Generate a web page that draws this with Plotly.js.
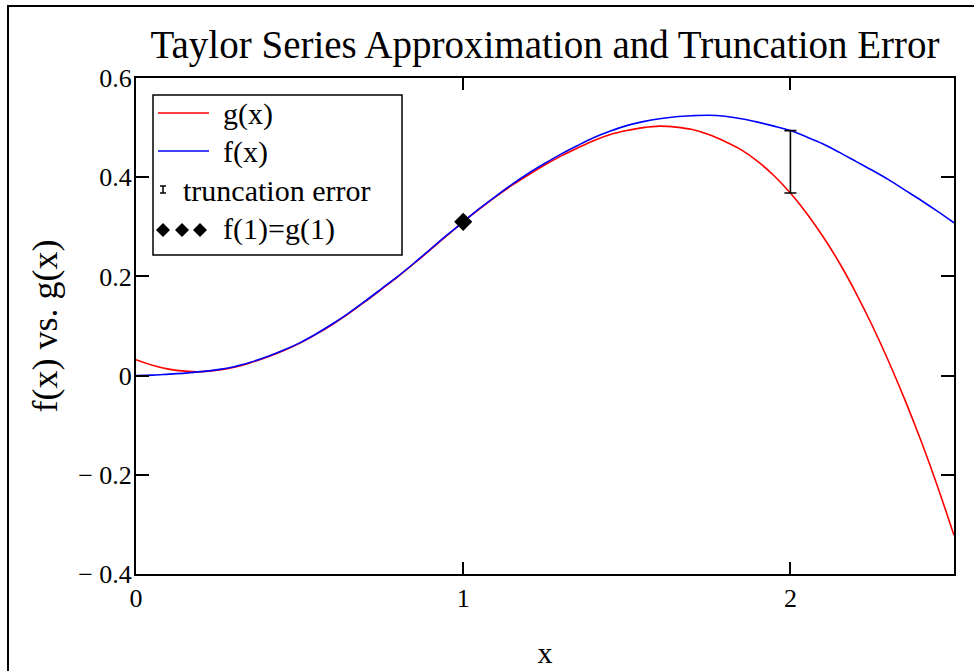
<!DOCTYPE html>
<html>
<head>
<meta charset="utf-8">
<script src="https://cdn.plot.ly/plotly-3.0.1.min.js"></script>
<style>
html,body{margin:0;padding:0;background:#fff;overflow:hidden;}
#chart{width:974px;height:671px;position:relative;}
#frame{position:absolute;left:7px;top:5px;width:2000px;height:2000px;border-left:2px solid #000;border-top:2px solid #000;pointer-events:none;}
</style>
</head>
<body>
<div id="chart"></div>
<div id="frame"></div>
<script>
// ---- data ----
const xs = [0, 0.05, 0.1, 0.15, 0.2, 0.25, 0.3, 0.35, 0.4, 0.45, 0.5, 0.55, 0.6, 0.65, 0.7, 0.75, 0.8, 0.85, 0.9, 0.95,
            1.0, 1.05, 1.1, 1.15, 1.2, 1.25, 1.3, 1.35, 1.4, 1.45, 1.5, 1.55, 1.6, 1.65, 1.7, 1.75, 1.8, 1.85, 1.9, 1.95,
            2.0, 2.05, 2.1, 2.15, 2.2, 2.25, 2.3, 2.35, 2.4, 2.45, 2.5];
const fVals = [0.000, 0.001, 0.003, 0.005, 0.008, 0.012, 0.018, 0.027, 0.038, 0.051, 0.066, 0.084, 0.104, 0.126, 0.150, 0.175, 0.200, 0.227, 0.255, 0.283,
               0.310, 0.337, 0.362, 0.386, 0.408, 0.428, 0.447, 0.464, 0.480, 0.493, 0.504, 0.512, 0.518, 0.522, 0.524, 0.525, 0.523, 0.518, 0.511, 0.503,
               0.494, 0.481, 0.467, 0.450, 0.432, 0.414, 0.395, 0.374, 0.353, 0.331, 0.308];
const gVals = [0.032, 0.021, 0.013, 0.009, 0.008, 0.011, 0.017, 0.026, 0.037, 0.050, 0.065, 0.083, 0.103, 0.125, 0.149, 0.174, 0.199, 0.226, 0.254, 0.282,
               0.310, 0.336, 0.361, 0.384, 0.405, 0.425, 0.443, 0.459, 0.474, 0.486, 0.494, 0.500, 0.503, 0.501, 0.496, 0.486, 0.472, 0.455, 0.432, 0.403,
               0.368, 0.327, 0.280, 0.227, 0.167, 0.101, 0.029, -0.049, -0.133, -0.224, -0.322];
const errX = [2];
const errLow = [0.368];
const errHigh = [0.494];
const matchX = [1];
const matchY = [0.31];
const yTickVals = [-0.4, -0.2, 0, 0.2, 0.4, 0.6];
const yTickText = ["\u2212 0.4", "\u2212 0.2", "0", "0.2", "0.4", "0.6"];
const xTickVals = [0, 1, 2];
const xTickText = ["0", "1", "2"];
const legendNames = ["g(x)", "f(x)", "truncation error", "f(1)=g(1)"];

const FONT = "Liberation Serif, Times New Roman, serif";

const traces = [
  {x: xs, y: gVals, type: 'scatter', mode: 'lines', name: legendNames[0],
   line: {color: '#ff0000', width: 1.6, shape: 'spline', smoothing: 0.8}, showlegend: false},
  {x: xs, y: fVals, type: 'scatter', mode: 'lines', name: legendNames[1],
   line: {color: '#0000ff', width: 1.6, shape: 'spline', smoothing: 0.8}, showlegend: false},
  {x: errX, y: errLow, type: 'scatter', mode: 'markers', name: legendNames[2],
   marker: {size: 1, opacity: 0},
   error_y: {type: 'data', symmetric: false,
             array: errHigh.map((h, i) => h - errLow[i]), arrayminus: [0],
             color: '#000', thickness: 1.6, width: 6},
   showlegend: false},
  {x: matchX, y: matchY, type: 'scatter', mode: 'markers', name: legendNames[3],
   marker: {symbol: 'diamond', size: 14, color: '#000'}, showlegend: false}
];

// legend geometry in paper coords (plot area 136..954 x 78..574 px)
const L = 136, W = 818, H = 496;
const px = v => (v - L) / W;
const py = v => (574 - v) / H;

const shapes = [
  {type: 'rect', xref: 'paper', yref: 'paper', x0: px(153), x1: px(402), y0: py(255), y1: py(95),
   line: {color: '#000', width: 1.5}, fillcolor: '#fff', layer: 'above'},
  {type: 'line', xref: 'paper', yref: 'paper', x0: px(158), x1: px(209), y0: py(113), y1: py(113),
   line: {color: '#ff0000', width: 1.6}},
  {type: 'line', xref: 'paper', yref: 'paper', x0: px(158), x1: px(209), y0: py(151), y1: py(151),
   line: {color: '#0000ff', width: 1.6}},
  {type: 'line', xref: 'paper', yref: 'paper', x0: px(163), x1: px(163), y0: py(186), y1: py(193),
   line: {color: '#000', width: 1.5}},
  {type: 'line', xref: 'paper', yref: 'paper', x0: px(160), x1: px(166), y0: py(186), y1: py(186),
   line: {color: '#000', width: 1.5}},
  {type: 'line', xref: 'paper', yref: 'paper', x0: px(160), x1: px(166), y0: py(193), y1: py(193),
   line: {color: '#000', width: 1.5}}
];
[163, 182, 200].forEach(cx => {
  const cy = 230, r = 7;
  const p = `M ${px(cx)} ${py(cy - r)} L ${px(cx + r)} ${py(cy)} L ${px(cx)} ${py(cy + r)} L ${px(cx - r)} ${py(cy)} Z`;
  shapes.push({type: 'path', xref: 'paper', yref: 'paper', path: p, fillcolor: '#000', line: {color: '#000', width: 0}});
});

const legFont = {family: FONT, size: 30, color: '#000'};
const annotations = [
  {text: legendNames[0], x: px(221), y: py(114), xref: 'paper', yref: 'paper', xanchor: 'left', yanchor: 'middle', showarrow: false, font: legFont},
  {text: legendNames[1], x: px(221), y: py(152), xref: 'paper', yref: 'paper', xanchor: 'left', yanchor: 'middle', showarrow: false, font: legFont},
  {text: legendNames[2], x: px(181), y: py(190), xref: 'paper', yref: 'paper', xanchor: 'left', yanchor: 'middle', showarrow: false, font: legFont},
  {text: legendNames[3], x: px(221), y: py(229), xref: 'paper', yref: 'paper', xanchor: 'left', yanchor: 'middle', showarrow: false, font: legFont}
];

const layout = {
  width: 974, height: 671,
  margin: {l: 136, r: 20, t: 78, b: 97},
  paper_bgcolor: '#fff', plot_bgcolor: '#fff',
  font: {family: FONT, color: '#000'},
  title: {text: 'Taylor Series Approximation and Truncation Error', x: 0.5, xref: 'paper',
          y: 1 - 44 / 671, yanchor: 'middle', font: {family: FONT, size: 39, color: '#000'}},
  xaxis: {range: [0, 2.5], tickvals: xTickVals, ticktext: xTickText, ticks: 'inside', ticklen: 12,
          tickwidth: 2, tickcolor: '#000', showline: true, linewidth: 2, linecolor: '#000', mirror: 'ticks',
          showgrid: false, zeroline: false, tickfont: {family: FONT, size: 26, color: '#000'},
          title: {text: 'x', font: {family: FONT, size: 30, color: '#000'}, standoff: 30}},
  yaxis: {range: [-0.4, 0.6], tickvals: yTickVals, ticktext: yTickText, ticks: 'inside', ticklen: 13,
          tickwidth: 2, tickcolor: '#000', showline: true, linewidth: 2, linecolor: '#000', mirror: 'ticks',
          showgrid: false, zeroline: false, tickfont: {family: FONT, size: 26, color: '#000'},
          ticklabelstandoff: -3,
          title: {text: 'f(x) vs. g(x)', font: {family: FONT, size: 36, color: '#000'}, standoff: 10}},
  shapes: shapes,
  annotations: annotations,
  showlegend: false
};

Plotly.newPlot('chart', traces, layout, {displayModeBar: false, staticPlot: true});
</script>
</body>
</html>
